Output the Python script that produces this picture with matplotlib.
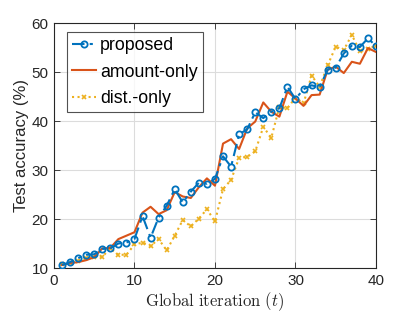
import matplotlib
matplotlib.use("Agg")
import matplotlib.pyplot as plt
import numpy as np

t = list(range(1, 41))
proposed = [10.6, 11.2, 12.0, 12.7, 12.8, 13.9, 14.0, 15.0, 15.2, 15.9,
            20.6, 16.2, 20.3, 22.7, 26.1, 23.4, 25.6, 27.4, 27.2, 28.2,
            32.8, 30.7, 37.3, 38.3, 41.8, 40.6, 41.9, 42.6, 47.0, 44.5,
            46.5, 47.3, 46.9, 50.5, 50.9, 53.8, 55.4, 55.1, 56.9, 55.3]
amount_only = [10.6, 11.0, 11.2, 11.6, 12.2, 14.0, 14.1, 15.9, 16.6, 17.3,
               21.3, 22.5, 21.0, 21.8, 25.5, 24.6, 24.3, 26.5, 28.3, 26.8,
               35.4, 36.3, 34.3, 38.5, 39.9, 43.8, 41.9, 40.9, 46.0, 44.6,
               43.1, 45.3, 45.4, 50.5, 51.1, 49.8, 52.1, 51.7, 54.9, 54.1]
dist_only = [10.9, 11.1, 11.5, 12.1, 12.3, 12.3, 14.0, 12.7, 12.7, 14.8,
             15.2, 14.5, 15.9, 13.6, 16.6, 19.8, 18.5, 20.1, 22.0, 19.5,
             26.1, 28.0, 32.5, 32.7, 33.8, 38.8, 36.6, 42.9, 42.6, 44.8,
             43.6, 49.3, 47.0, 51.4, 55.2, 54.5, 57.6, 54.2, 54.7, 55.4]
xticks = [0, 10, 20, 30, 40]
yticks = [10, 20, 30, 40, 50, 60]

plt.rcParams['font.family'] = ['Liberation Sans', 'DejaVu Sans']
plt.rcParams['mathtext.fontset'] = 'cm'

fig = plt.figure(figsize=(4.15, 3.12), dpi=100)
ax = fig.add_axes([0.130, 0.141, 0.776, 0.785])

blue = '#0072BD'
orange = '#D95319'
yellow = '#EDB120'

ax.plot(t, proposed, linestyle=(0, (6, 2.5, 1.5, 2.5)), color=blue, lw=1.5,
        marker='o', markersize=4.5, markerfacecolor='none',
        markeredgewidth=1.3, label='proposed', zorder=4)
ax.plot(t, amount_only, linestyle='-', color=orange, lw=1.5,
        label='amount-only', zorder=3)
ax.plot(t, dist_only, linestyle=':', color=yellow, lw=1.5, marker='x',
        markersize=3.5, markeredgewidth=1.2, label='dist.-only', zorder=2)

ax.set_xlim(0, 40)
ax.set_ylim(10, 60)
ax.set_xticks(xticks)
ax.set_yticks(yticks)
ax.tick_params(direction='in', top=True, right=True, labelsize=11,
               length=4, width=0.6, colors='#262626', pad=4)
ax.grid(True, color='#dcdcdc', lw=0.8)
ax.set_axisbelow(True)
for s in ax.spines.values():
    s.set_color('#262626')
    s.set_linewidth(0.8)

ax.set_ylabel('Test accuracy (%)', fontsize=12, color='#262626', labelpad=2)
ax.set_xlabel(r'$\mathrm{Global\ iteration\ (}t\mathrm{)}$', fontsize=12,
              color='#262626', labelpad=2)

leg = ax.legend(loc='upper left', bbox_to_anchor=(67 / 415, 1 - 32 / 312),
                bbox_transform=fig.transFigure, fontsize=12.8, frameon=True,
                fancybox=False, edgecolor='#262626', handlelength=1.35,
                handletextpad=0.2, borderpad=0.3, labelspacing=0.52,
                borderaxespad=0)
leg.get_frame().set_linewidth(0.8)

fig.savefig('out.png', dpi=100)
